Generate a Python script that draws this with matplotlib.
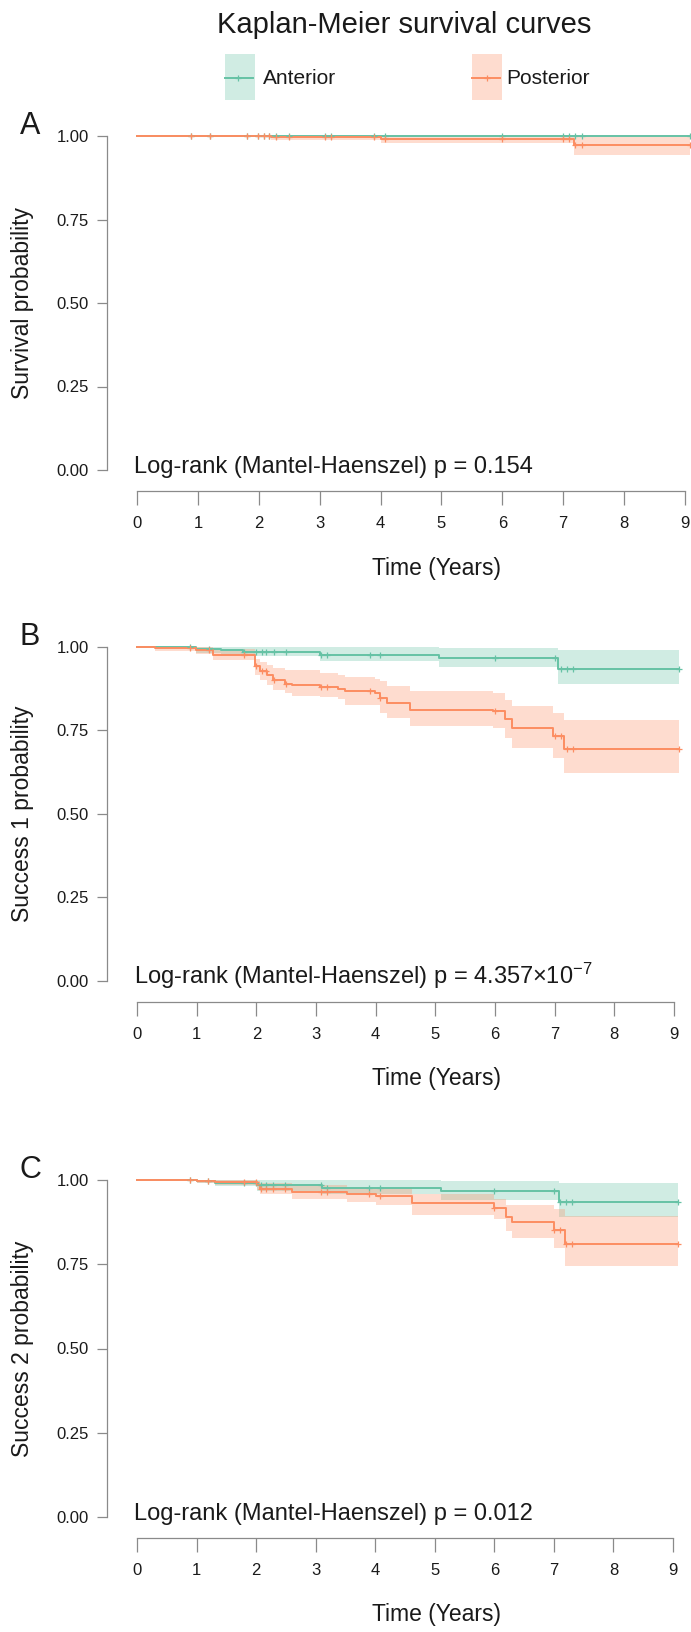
import matplotlib
matplotlib.use('Agg')
import matplotlib.pyplot as plt
import numpy as np
from matplotlib.patches import Rectangle

plt.rcParams['font.family'] = ['Liberation Sans', 'DejaVu Sans']
plt.rcParams['mathtext.fontset'] = 'custom'
plt.rcParams['mathtext.rm'] = 'Liberation Sans'
plt.rcParams['mathtext.it'] = 'Liberation Sans:italic'

# ---------------- data ----------------
groups = ['Anterior', 'Posterior']
panel_letters = ['A', 'B', 'C']
ylabels = ['Survival probability', 'Success 1 probability', 'Success 2 probability']
pvalue_texts = ['Log-rank (Mantel-Haenszel) p = 0.154',
                r'Log-rank (Mantel-Haenszel) p = 4.357$\times$10$^{-7}$',
                'Log-rank (Mantel-Haenszel) p = 0.012']
xticks = [0, 1, 2, 3, 4, 5, 6, 7, 8, 9]
yticks = [0.0, 0.25, 0.5, 0.75, 1.0]
ytick_labels = ['0.00', '0.25', '0.50', '0.75', '1.00']

censor_times = [0.89, 1.2, 1.8, 1.99, 2.09, 2.17, 2.29, 2.49, 3.09, 3.19,
                3.9, 4.08, 6.0, 7.0, 7.1, 7.2, 7.31, 9.08]
end_time = 9.08

# Panel A - survival
a_ant_t = [0.0]
a_ant_s = [1.0]
a_ant_lo = [1.0]
a_ant_hi = [1.0]
a_post_t = [0.0, 2.2, 4.0, 7.18]
a_post_s = [1.0, 0.996, 0.99, 0.972]
a_post_lo = [1.0, 0.988, 0.979, 0.942]
a_post_hi = [1.0, 1.0, 1.0, 0.996]

# Panel B - success 1
b_ant_t = [0.0, 0.99, 1.4, 1.78, 3.07, 5.06, 7.06]
b_ant_s = [1.0, 0.993, 0.99, 0.985, 0.976, 0.967, 0.934]
b_ant_lo = [1.0, 0.983, 0.978, 0.972, 0.957, 0.94, 0.888]
b_ant_hi = [1.0, 1.0, 1.0, 1.0, 1.0, 0.996, 0.99]
b_post_t = [0.0, 0.30, 0.99, 1.28, 1.98, 2.06, 2.18, 2.28, 2.48, 2.6, 3.07,
            3.37, 3.49, 3.99, 4.08, 4.19, 4.58, 5.97, 6.17, 6.28, 6.98, 7.16]
b_post_s = [1.0, 0.996, 0.991, 0.977, 0.942, 0.927, 0.915, 0.902, 0.889, 0.887, 0.880,
            0.874, 0.869, 0.862, 0.847, 0.833, 0.812, 0.807, 0.783, 0.758, 0.733, 0.696]
b_post_lo = [1.0, 0.988, 0.978, 0.962, 0.917, 0.902, 0.887, 0.872, 0.862, 0.852, 0.850,
             0.845, 0.827, 0.827, 0.803, 0.787, 0.763, 0.756, 0.728, 0.698, 0.668, 0.622]
b_post_hi = [1.0, 1.0, 1.0, 0.993, 0.965, 0.955, 0.946, 0.937, 0.932, 0.930, 0.922,
             0.915, 0.909, 0.905, 0.897, 0.882, 0.867, 0.862, 0.842, 0.822, 0.803, 0.780]

# Panel C - success 2
c_ant_t = [0.0, 1.0, 1.31, 2.01, 3.1, 5.1, 7.09]
c_ant_s = [1.0, 0.997, 0.992, 0.984, 0.977, 0.967, 0.934]
c_ant_lo = [1.0, 0.99, 0.982, 0.967, 0.958, 0.942, 0.891]
c_ant_hi = [1.0, 1.0, 1.0, 1.0, 1.0, 0.997, 0.992]
c_post_t = [0.0, 1.0, 1.31, 2.01, 2.06, 2.6, 3.52, 4.02, 4.61, 5.99, 6.19, 6.29, 7.0, 7.19]
c_post_s = [1.0, 0.997, 0.994, 0.985, 0.974, 0.964, 0.959, 0.952, 0.931, 0.918, 0.891,
            0.876, 0.851, 0.811]
c_post_lo = [1.0, 0.99, 0.985, 0.97, 0.957, 0.943, 0.934, 0.925, 0.897, 0.883, 0.848,
             0.828, 0.798, 0.745]
c_post_hi = [1.0, 1.0, 1.0, 0.997, 0.99, 0.984, 0.98, 0.977, 0.957, 0.943, 0.927,
             0.927, 0.913, 0.893]

# ---------------- layout / style ----------------
W, H, DPI = 691, 1632, 100
GREEN = '#66C2A5'
ORANGE = '#FC8D62'
AXC = '#8a8a8a'
TXT = '#1a1a1a'
BAND_ALPHA = 0.3

# pixel layout: (y of 1.00, y of 0.00, x of t=0, x of t=9)
layouts = [(136, 470, 137, 685), (647, 981, 137, 674), (1180, 1517, 137, 673)]

fig = plt.figure(figsize=(W / DPI, H / DPI), dpi=DPI)
fig.patch.set_facecolor('white')


def km(ax, t, s, lo, hi, color):
    t_ext = list(t) + [end_time]
    s_ext = list(s) + [s[-1]]
    lo_ext = list(lo) + [lo[-1]]
    hi_ext = list(hi) + [hi[-1]]
    ax.fill_between(t_ext, lo_ext, hi_ext, step='post', color=color,
                    alpha=BAND_ALPHA, lw=0, zorder=1)
    ax.step(t_ext, s_ext, where='post', color=color, lw=1.4, zorder=3)
    tt = np.array(t)
    cs = [s[np.searchsorted(tt, c, side='right') - 1] for c in censor_times]
    ax.plot(censor_times, cs, linestyle='none', marker='+', color=color,
            markersize=5, mew=0.9, zorder=4)


panels = [
    ((a_ant_t, a_ant_s, a_ant_lo, a_ant_hi), (a_post_t, a_post_s, a_post_lo, a_post_hi)),
    ((b_ant_t, b_ant_s, b_ant_lo, b_ant_hi), (b_post_t, b_post_s, b_post_lo, b_post_hi)),
    ((c_ant_t, c_ant_s, c_ant_lo, c_ant_hi), (c_post_t, c_post_s, c_post_lo, c_post_hi)),
]

ov = fig.add_axes([0, 0, 1, 1], zorder=10)
ov.set_xlim(0, W)
ov.set_ylim(H, 0)
ov.axis('off')
ov.patch.set_alpha(0)

for i, ((ant, post), (y1, y0, x0, x9)) in enumerate(zip(panels, layouts)):
    ppy = (x9 - x0) / 9.0
    ppu = float(y0 - y1)
    left_px, right_px = 107, 691
    top_px, bottom_px = y1 - 8, y0 + 8
    ax = fig.add_axes([left_px / W, 1 - bottom_px / H,
                       (right_px - left_px) / W, (bottom_px - top_px) / H])
    ax.set_xlim((left_px - x0) / ppy, (right_px - x0) / ppy)
    ax.set_ylim(-(bottom_px - y0) / ppu, 1 + (y1 - top_px) / ppu)
    ax.patch.set_alpha(0)
    for sp in ['top', 'right']:
        ax.spines[sp].set_visible(False)
    ax.spines['left'].set_bounds(0, 1)
    ax.spines['bottom'].set_bounds(0, 9)
    ax.spines['bottom'].set_position(('outward', (y0 + 21 - bottom_px) * 72 / DPI))
    for sp in ['left', 'bottom']:
        ax.spines[sp].set_color(AXC)
        ax.spines[sp].set_linewidth(0.9)
    ax.set_xticks(xticks)
    ax.set_xticklabels([str(v) for v in xticks])
    ax.set_yticks(yticks)
    ax.set_yticklabels(ytick_labels)
    ax.tick_params(axis='x', length=10, width=0.9, color=AXC, pad=8,
                   labelsize=12, labelcolor=TXT)
    ax.tick_params(axis='y', length=7, width=0.9, color=AXC, pad=6,
                   labelsize=12, labelcolor=TXT)

    km(ax, *ant, GREEN)
    km(ax, *post, ORANGE)

    ov.text(134, y0 + 3, pvalue_texts[i], fontsize=17, color=TXT,
            ha='left', va='baseline')
    ov.text(437, y0 + 98, 'Time (Years)', fontsize=16.5, color=TXT,
            ha='center', va='center')
    ov.text(23, (y1 + y0) / 2, ylabels[i], fontsize=16.5, color=TXT,
            ha='center', va='center', rotation=90)
    ov.text(20, y1 - 2, panel_letters[i], fontsize=22, color=TXT,
            ha='left', va='baseline')

# title and legend
ov.text(404, 25, 'Kaplan-Meier survival curves', fontsize=21, color=TXT,
        ha='center', va='center')
for (px0, px1, mx, tx), color, name in zip(
        [(225, 255, 238, 263), (472, 502, 487, 506)], [GREEN, ORANGE], groups):
    ov.add_patch(Rectangle((px0, 54), px1 - px0, 46, facecolor=color,
                           alpha=BAND_ALPHA, lw=0))
    ov.plot([px0, px1 - 2], [78, 78], color=color, lw=1.4)
    ov.plot([mx], [78], marker='+', color=color, markersize=5, mew=0.9)
    ov.text(tx, 78, name, fontsize=15, color=TXT, ha='left', va='center')

fig.savefig('out.png', dpi=DPI, facecolor='white')
